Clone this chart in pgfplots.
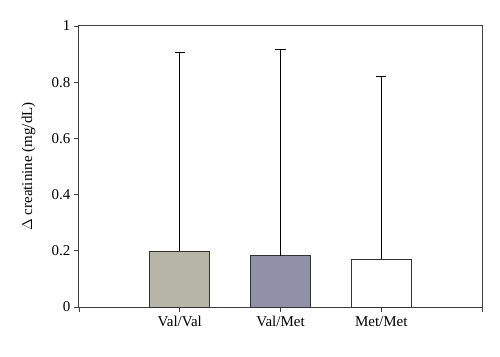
\documentclass[border=0pt]{standalone}
\usepackage{pgfplots}
\pgfplotsset{compat=1.18}
\usepackage{fontspec}
\setmainfont{Liberation Serif}
\definecolor{vv}{HTML}{B5B5A8}
\definecolor{vm}{HTML}{9090A8}
\definecolor{axc}{HTML}{404040}
\begin{document}
\begin{tikzpicture}
\begin{axis}[
  scale only axis,
  width=403pt, height=281pt,
  xmin=0, xmax=4, ymin=0, ymax=1,
  xtick={0,1,2,3,4},
  xticklabels={,Val/Val,Val/Met,Met/Met,},
  ytick={0,0.2,0.4,0.6,0.8,1},
  yticklabels={0,0.2,0.4,0.6,0.8,1},
  tick align=outside,
  major tick length=5pt,
  xtick pos=bottom, ytick pos=left,
  axis line style={axc, line width=1pt},
  tick style={axc, line width=0.9pt},
  ticklabel style={font=\fontsize{15}{17}\selectfont},
  xticklabel style={yshift=-1pt},
  ylabel={$\Delta$ creatinine (mg/dL)},
  ylabel style={font=\fontsize{15}{17}\selectfont, at={(axis description cs:0,0.5)}, anchor=south, yshift=40pt},
  ybar, bar width=60pt,
  error bars/error bar style={black, line width=0.8pt},
  error bars/error mark options={rotate=90, mark size=5pt, line width=0.8pt},
]
\addplot[fill=vv, draw=black!80, line width=0.8pt, bar shift=0pt,
  error bars/.cd, y dir=plus, y explicit]
  coordinates {(1,0.199) +- (0,0.707)};
\addplot[fill=vm, draw=black!80, line width=0.8pt, bar shift=0pt,
  error bars/.cd, y dir=plus, y explicit]
  coordinates {(2,0.183) +- (0,0.734)};
\addplot[fill=white, draw=black!80, line width=0.8pt, bar shift=0pt,
  error bars/.cd, y dir=plus, y explicit]
  coordinates {(3,0.170) +- (0,0.649)};
\end{axis}
\path (current axis.south west) ++(-79pt,-49pt) coordinate (bl);
\path (current axis.north east) ++(18pt,26pt) coordinate (tr);
\path[use as bounding box] (bl) rectangle (tr);
\end{tikzpicture}
\end{document}
